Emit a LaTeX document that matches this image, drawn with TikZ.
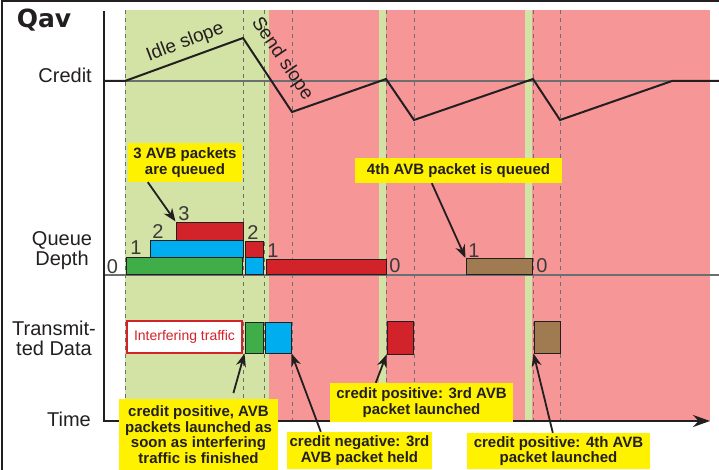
\documentclass[tikz,border=0pt]{standalone}
\usepackage{fontspec}
\setmainfont{Liberation Sans}
\newfontfamily\qavfont{DejaVu Sans}
\usetikzlibrary{arrows.meta,fit}

\definecolor{ink}{HTML}{231F20}
\definecolor{numgray}{HTML}{3A3A3A}
\definecolor{dashgray}{HTML}{6D6E70}
\definecolor{bggreen}{HTML}{D3E2A5}
\definecolor{bgred}{HTML}{F69697}
\definecolor{avbgreen}{HTML}{3FAE49}
\definecolor{avbblue}{HTML}{00AEEF}
\definecolor{avbred}{HTML}{D2232A}
\definecolor{avbbrown}{HTML}{A07B52}
\definecolor{noteyellow}{HTML}{FFF200}

\tikzset{
    lbl/.style={font=\fontsize{20}{20}\selectfont, text=ink, inner sep=0pt},
    num/.style={font=\fontsize{20}{20}\selectfont, text=numgray, inner sep=0pt, anchor=base},
    pkt/.style={draw=ink, line width=1pt, inner sep=0pt},
    note/.style={fill=noteyellow, text=ink, font=\bfseries\fontsize{15}{15.5}\selectfont,
                 align=center, inner sep=0pt},
    pointer/.style={-{Stealth[length=13pt,width=10pt]}, line width=1.8pt, ink},
    slot/.style={dashgray, line width=1pt, dash pattern=on 4pt off 4pt},
    level/.style={dashgray, line width=1.2pt},
}

\begin{document}
\begin{tikzpicture}[x=1pt,y=-1pt]
    \useasboundingbox (0,0) rectangle (719,470);
    % frame
    \draw[ink, line width=2pt] (2,470) -- (2,1) -- (719,1);
    % credit phases
    \fill[bggreen] (125,10) rectangle (269,421);
    \fill[bgred] (269,10) rectangle (710,421);
    \fill[bggreen] (379,10) rectangle (386,421);
    \fill[bggreen] (525,10) rectangle (532,421);
    \foreach \t in {125,243,264,292,386,414,533,560}
        \draw[slot] (\t,10) -- (\t,421);
    \draw[level] (104,81) -- (719,81);
    \draw[level] (104,275) -- (719,275);
    % credit
    \draw[ink, line width=2pt, line join=miter]
        (104,81) -- (125,81) -- (243,38) -- (292,112) -- (386,79) -- (414,120)
        -- (533,79) -- (560,120) -- (672,81) -- (719,81);
    \node[font=\fontsize{19}{19}\selectfont, text=ink, rotate=21, anchor=base] (idle) at (187,47) {Idle slope};
    \node[font=\fontsize{19}{19}\selectfont, text=ink, rotate=-56] (send) at (282,59) {Send slope};
    % axes
    \draw[ink, line width=2.2pt, -{Stealth[length=17pt,width=12pt]}] (104,11) -- (104,421) -- (710,421);

    \node[font=\qavfont\bfseries\fontsize{25}{25}\selectfont, text=ink, inner sep=0pt, anchor=base] (qav) at (44,28) {Qav};
    \node[lbl, anchor=base east] (credit) at (92,83) {Credit};
    \node[lbl, align=center] (depth) at (62,251) {Queue\\Depth};
    \node[lbl, align=center] (sent) at (54,338) {Transmit-\\ted Data};
    \node[lbl, anchor=base east] (time) at (91,426) {Time};

    % queue
    \node[pkt, fill=avbgreen, fit={(126,257) (242,274.5)}] (qa) {};
    \node[pkt, fill=avbblue, fit={(150,240.5) (243,257)}] (qb) {};
    \node[pkt, fill=avbred, fit={(176,222) (243,240.5)}] (qc) {};
    \node[pkt, fill=avbred, fit={(245,241) (263,257)}] (qd) {};
    \node[pkt, fill=avbblue, fit={(245,257) (263,274.5)}] (qe) {};
    \node[pkt, fill=avbred, fit={(266,259) (386,274.5)}] (qf) {};
    \node[pkt, fill=avbbrown, fit={(466,258.5) (532,274)}] (qg) {};

    \node[num] (d0) at (112.5,273) {0};
    \node[num] (d1) at (136,254) {1};
    \node[num] (d2) at (158,238) {2};
    \node[num] (d3) at (184,221) {3};
    \node[num] (d4) at (253,239) {2};
    \node[num] (d5) at (273,257) {1};
    \node[num] (d6) at (395,272) {0};
    \node[num] (d7) at (474,257) {1};
    \node[num] (d8) at (542,272) {0};

    % transmitted data
    \node[pkt, draw=avbred, line width=2pt, fill=white, text=avbred, font=\fontsize{14}{14}\selectfont,
          minimum width=115pt, minimum height=32pt] (itf) at (184.5,337) {Interfering traffic};
    \node[pkt, fill=avbgreen, fit={(245,322) (263,353)}] (ta) {};
    \node[pkt, fill=avbblue, fit={(265,322) (291,353)}] (tb) {};
    \node[pkt, fill=avbred, fit={(387,321) (413,354)}] (tc) {};
    \node[pkt, fill=avbbrown, fit={(534,321) (560,353)}] (td) {};

    % notes
    \node[note, minimum width=114pt, minimum height=39pt] (n1) at (185,162.5) {3 AVB packets\\are queued};
    \node[note, minimum width=207pt, minimum height=25pt] (n2) at (458.5,170.5) {4th AVB packet is queued};
    \node[note, minimum width=159pt, minimum height=71pt] (n3) at (198.5,434.5)
        {credit positive, AVB\\packets launched as\\soon as interfering\\traffic is finished};
    \node[note, minimum width=145pt, minimum height=37pt] (n4) at (359.5,450.5) {credit negative: 3rd\\AVB packet held};
    \node[note, minimum width=183pt, minimum height=39pt] (n5) at (421.5,402.5) {credit positive: 3rd AVB\\packet launched};
    \node[note, minimum width=183pt, minimum height=36pt] (n6) at (558.5,451) {credit positive: 4th AVB\\packet launched};

    \draw[pointer] ([xshift=20pt]n1.south west) -- (qc.north west);
    \draw[pointer] ([xshift=77pt]n2.south west) -- (qg.north west);
    \draw[pointer, shorten <=6pt] ([xshift=113pt]n3.north west) -- (ta.south west);
    \draw[pointer] ([xshift=34pt]n4.north west) -- (tb.south east);
    \draw[pointer] ([xshift=46pt]n5.north west) -- (tc.south west);
    \draw[pointer] ([xshift=86pt]n6.north west) -- (td.south west);
\end{tikzpicture}
\end{document}
